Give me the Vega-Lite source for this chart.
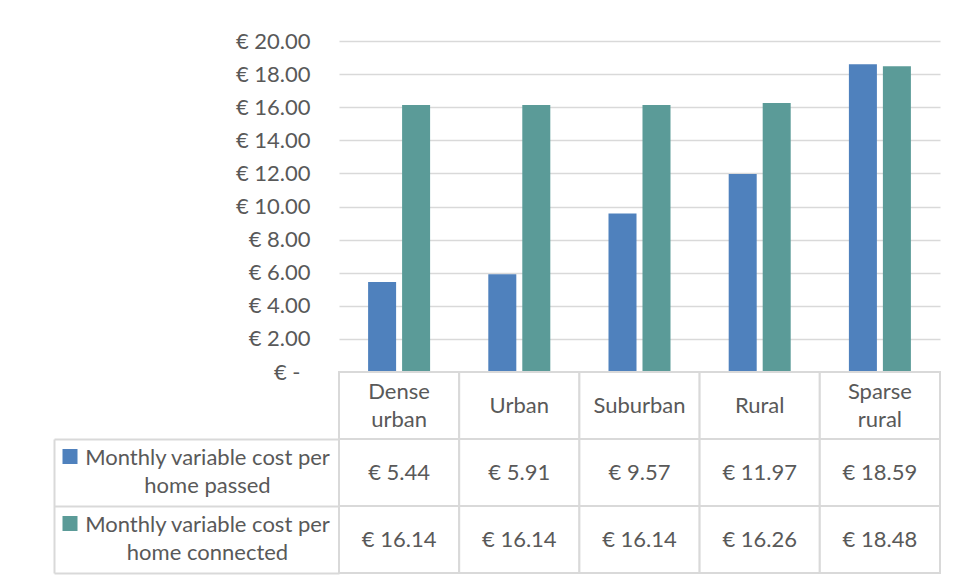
{
  "$schema": "https://vega.github.io/schema/vega-lite/v6.json",
  "background": "white",
  "padding": {"left": 46, "top": 30, "right": 10, "bottom": 5},
  "bounds": "flush",
  "spacing": 0,
  "datasets": {
    "costs": [
      {"category": "Dense urban", "series": "Monthly variable cost per home passed", "value": 5.44},
      {"category": "Urban", "series": "Monthly variable cost per home passed", "value": 5.91},
      {"category": "Suburban", "series": "Monthly variable cost per home passed", "value": 9.57},
      {"category": "Rural", "series": "Monthly variable cost per home passed", "value": 11.97},
      {"category": "Sparse rural", "series": "Monthly variable cost per home passed", "value": 18.59},
      {"category": "Dense urban", "series": "Monthly variable cost per home connected", "value": 16.14},
      {"category": "Urban", "series": "Monthly variable cost per home connected", "value": 16.14},
      {"category": "Suburban", "series": "Monthly variable cost per home connected", "value": 16.14},
      {"category": "Rural", "series": "Monthly variable cost per home connected", "value": 16.26},
      {"category": "Sparse rural", "series": "Monthly variable cost per home connected", "value": 18.48}
    ]
  },
  "config": {
    "view": {"stroke": null},
    "font": "Lato",
    "locale": {"number": {"decimal": ".", "thousands": ",", "grouping": [3], "currency": ["€ ", ""]}},
    "axis": {"labelFont": "Lato", "labelFontSize": 22, "labelColor": "#595959", "title": null}
  },
  "vconcat": [
    {
      "width": 601,
      "height": 331,
      "data": {"name": "costs"},
      "mark": {"type": "bar"},
      "encoding": {
        "x": {"field": "category", "type": "nominal", "sort": ["Dense urban", "Urban", "Suburban", "Rural", "Sparse rural"], "scale": {"paddingInner": 0, "paddingOuter": 0}, "axis": null},
        "xOffset": {"field": "series", "type": "nominal", "sort": ["Monthly variable cost per home passed", "Monthly variable cost per home connected"], "scale": {"paddingInner": 0.176, "paddingOuter": 0.856}},
        "y": {"field": "value", "type": "quantitative", "scale": {"domain": [0, 20], "nice": false},
          "axis": {"values": [0, 2, 4, 6, 8, 10, 12, 14, 16, 18, 20], "format": "$.2f", "labelExpr": "datum.value === 0 ? '€ -' : datum.label", "ticks": false, "domain": false,
            "labelPadding": {"condition": {"test": "datum.value === 0", "value": 39}, "value": 29},
            "grid": true, "gridColor": "#d9d9d9", "gridWidth": 1.3}},
        "color": {"field": "series", "type": "nominal", "scale": {"domain": ["Monthly variable cost per home passed", "Monthly variable cost per home connected"], "range": ["#4f81bd", "#5b9b98"]}, "legend": null}
      }
    },
    {
      "width": 601,
      "height": 201,
      "data": {"name": "costs"},
      "resolve": {"axis": {"y": "independent"}},
      "layer": [
        {
          "mark": {"type": "rect", "fill": "white", "stroke": "#d9d9d9", "strokeWidth": 2},
          "encoding": {
            "x": {"field": "category", "type": "nominal", "sort": ["Dense urban", "Urban", "Suburban", "Rural", "Sparse rural"], "scale": {"paddingInner": 0, "paddingOuter": 0}, "axis": null},
            "y": {"field": "series", "type": "nominal", "scale": {"domain": ["h", "Monthly variable cost per home passed", "Monthly variable cost per home connected"], "paddingInner": 0, "paddingOuter": 0},
              "axis": {"orient": "left", "domain": false, "grid": false, "ticks": true, "bandPosition": 1, "tickSize": 285, "tickColor": "#d9d9d9", "tickWidth": 2,
                "labelExpr": "datum.value === 'h' ? '' : [slice(datum.value, 0, indexof(datum.value, ' home')), slice(datum.value, indexof(datum.value, ' home') + 1)]",
                "labelAlign": "center", "labelBaseline": "middle", "labelPadding": -153, "labelOffset": -14.5, "labelLimit": 0, "labelLineHeight": 28}}
          }
        },
        {
          "mark": {"type": "text", "fontSize": 22, "color": "#595959"},
          "encoding": {
            "x": {"field": "category", "type": "nominal", "sort": ["Dense urban", "Urban", "Suburban", "Rural", "Sparse rural"], "axis": null},
            "y": {"field": "series", "type": "nominal", "axis": null},
            "text": {"field": "value", "type": "quantitative", "format": "$.2f"}
          }
        },
        {
          "transform": [{"filter": "datum.series === 'Monthly variable cost per home passed'"}],
          "mark": {"type": "rect", "fill": "white", "stroke": "#d9d9d9", "strokeWidth": 2},
          "encoding": {
            "x": {"field": "category", "type": "nominal", "sort": ["Dense urban", "Urban", "Suburban", "Rural", "Sparse rural"], "axis": null},
            "y": {"datum": "h", "type": "nominal",
              "axis": {"orient": "left", "offset": 285, "labels": false, "grid": false, "domain": true, "domainColor": "#d9d9d9", "domainWidth": 2, "domainDash": [0, 67, 134, 0],
                "ticks": true, "tickSize": -23, "tickWidth": 15, "tickDash": [0, 8, 15, 40], "tickOffset": -17, "bandPosition": 0.5,
                "tickColor": {"condition": [{"test": "datum.value === 'h'", "value": "transparent"}, {"test": "indexof(datum.value, 'passed') >= 0", "value": "#4f81bd"}], "value": "#5b9b98"}}}
          }
        },
        {
          "transform": [{"filter": "datum.series === 'Monthly variable cost per home passed'"}],
          "mark": {"type": "text", "fontSize": 22, "color": "#595959", "lineBreak": " ", "lineHeight": 28, "dy": {"expr": "indexof(datum.category, ' ') >= 0 ? -14 : 0"}},
          "encoding": {
            "x": {"field": "category", "type": "nominal", "sort": ["Dense urban", "Urban", "Suburban", "Rural", "Sparse rural"], "axis": null},
            "y": {"datum": "h", "type": "nominal", "axis": null},
            "text": {"field": "category", "type": "nominal"}
          }
        }
      ]
    }
  ]
}
